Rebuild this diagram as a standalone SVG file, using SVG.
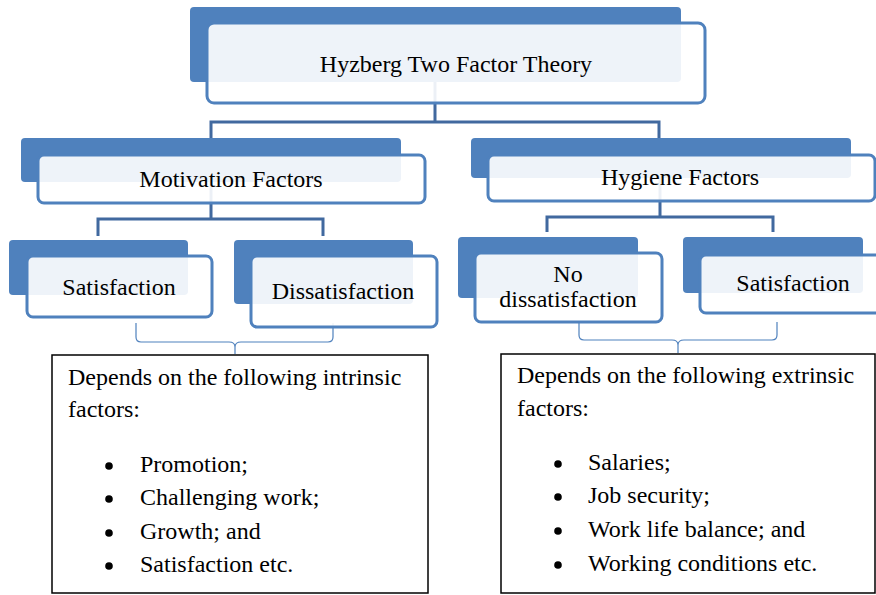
<svg xmlns="http://www.w3.org/2000/svg" width="876" height="595" viewBox="0 0 876 595">
<style>
.bg{fill:#4F81BD;}
.box{fill:#FFFFFF;fill-opacity:0.9;stroke:#4F81BD;stroke-width:3;}
.conn{fill:none;stroke:#41699F;stroke-width:3;}
.brace{fill:none;stroke:#4F81BD;stroke-width:1.2;}
.lbl{font-family:"Liberation Serif","Times New Roman",serif;font-size:24px;fill:#000;text-anchor:middle;}
.txt{font-family:"Liberation Serif","Times New Roman",serif;font-size:24px;fill:#000;}
.tb{fill:#FFFFFF;stroke:#000;stroke-width:1.5;}
</style>
<rect width="876" height="595" fill="#FFFFFF"/>
<g id="connectors">
<path class="conn" d="M435,63 V122 M211,140 V122 H659 V140"/>
<path class="conn" d="M211,170 V219 M98,236 V219 H323 V236"/>
<path class="conn" d="M660,170 V217 M547,232 V217 H773 V232"/>
<path class="brace" d="M136,323 V337 Q136,342 141,342 H229 Q235,342 235,347 Q235,342 241,342 H328 Q333,342 333,337 V323 M235,347 V354"/>
<path class="brace" d="M579,322 V335 Q579,340 584,340 H672 Q678,340 678,345 Q678,340 684,340 H772 Q777,340 777,335 V322 M678,345 V353"/>
</g>
<g id="node-top">
<rect class="bg" x="190" y="7" width="491" height="75" rx="4"/>
<rect class="box" x="207" y="23" width="498" height="80" rx="7"/>
<text class="lbl" x="456" y="72">Hyzberg Two Factor Theory</text>
</g>
<g id="node-motivation">
<rect class="bg" x="21" y="138" width="380" height="44" rx="4"/>
<rect class="box" x="38" y="155" width="387" height="48" rx="6"/>
<text class="lbl" x="231" y="187">Motivation Factors</text>
</g>
<g id="node-hygiene">
<rect class="bg" x="471" y="138" width="380" height="40" rx="4"/>
<rect class="box" x="488" y="155" width="387" height="46" rx="6"/>
<text class="lbl" x="680" y="185">Hygiene Factors</text>
</g>
<g id="node-satisfaction-left">
<rect class="bg" x="9" y="240" width="179" height="55" rx="4"/>
<rect class="box" x="27" y="256" width="185" height="61" rx="6"/>
<text class="lbl" x="119" y="295">Satisfaction</text>
</g>
<g id="node-dissatisfaction">
<rect class="bg" x="234" y="240" width="179" height="64" rx="4"/>
<rect class="box" x="251" y="256" width="186" height="71" rx="6"/>
<text class="lbl" x="343" y="299">Dissatisfaction</text>
</g>
<g id="node-no-dissatisfaction">
<rect class="bg" x="458" y="237" width="180" height="61" rx="4"/>
<rect class="box" x="475" y="253" width="187" height="69" rx="6"/>
<text class="lbl" x="568" y="282">No</text>
<text class="lbl" x="568" y="307">dissatisfaction</text>
</g>
<g id="node-satisfaction-right">
<rect class="bg" x="683" y="237" width="180" height="56" rx="4"/>
<rect class="box" x="700" y="255" width="190" height="58" rx="6"/>
<text class="lbl" x="793" y="291">Satisfaction</text>
</g>
<g id="node-intrinsic">
<rect class="tb" x="52" y="355" width="376" height="238"/>
<text class="txt" x="68" y="385">Depends on the following intrinsic</text>
<text class="txt" x="68" y="417">factors:</text>
<circle cx="109" cy="466" r="3.8"/>
<circle cx="109" cy="499" r="3.8"/>
<circle cx="109" cy="533" r="3.8"/>
<circle cx="109" cy="566" r="3.8"/>
<text class="txt" x="140" y="472">Promotion;</text>
<text class="txt" x="140" y="505">Challenging work;</text>
<text class="txt" x="140" y="539">Growth; and</text>
<text class="txt" x="140" y="572">Satisfaction etc.</text>
</g>
<g id="node-extrinsic">
<rect class="tb" x="501" y="354" width="374" height="239"/>
<text class="txt" x="517" y="383">Depends on the following extrinsic</text>
<text class="txt" x="517" y="416">factors:</text>
<circle cx="558" cy="464" r="3.8"/>
<circle cx="558" cy="497" r="3.8"/>
<circle cx="558" cy="531" r="3.8"/>
<circle cx="558" cy="565" r="3.8"/>
<text class="txt" x="588" y="470">Salaries;</text>
<text class="txt" x="588" y="503">Job security;</text>
<text class="txt" x="588" y="537">Work life balance; and</text>
<text class="txt" x="588" y="571">Working conditions etc.</text>
</g>
</svg>
